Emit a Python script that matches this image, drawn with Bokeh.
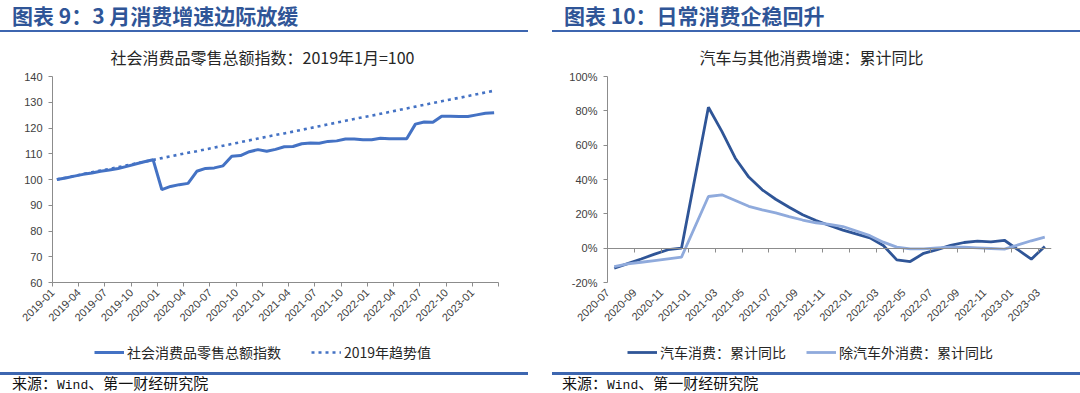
import math
from bokeh.plotting import figure
from bokeh.models import (Range1d, FixedTicker, LinearAxis, Legend, LegendItem,
                          Div, Spacer, PrintfTickFormatter)
from bokeh.layouts import column, row
from bokeh.embed import file_html
from bokeh.resources import INLINE

# ---------------- data ----------------
months_L = [f"{y}-{m:02d}" for y in range(2019, 2024) for m in range(1, 13)][:51]
retail_index = [100.0, 100.6, 101.3, 102.0, 102.5, 103.2, 103.7, 104.3, 105.1, 106.0, 106.9, 107.7,
                96.1, 97.3, 98.0, 98.5, 103.2, 104.3, 104.5, 105.3, 109.0, 109.3, 110.8, 111.6,
                111.0, 111.7, 112.7, 112.8, 113.9, 114.2, 114.1, 114.8, 115.0, 115.7, 115.7, 115.4,
                115.4, 116.0, 115.8, 115.8, 115.8, 121.5, 122.3, 122.2, 124.6, 124.6, 124.5, 124.5,
                125.1, 125.7, 125.9]
trend_2019 = [100.0, 100.7, 101.4, 102.1, 102.8, 103.5, 104.1, 104.8, 105.5, 106.2, 106.9, 107.6,
              108.3, 109.0, 109.7, 110.4, 111.0, 111.7, 112.4, 113.1, 113.8, 114.5, 115.2, 115.9,
              116.6, 117.3, 117.9, 118.6, 119.3, 120.0, 120.7, 121.4, 122.1, 122.8, 123.5, 124.2,
              124.8, 125.5, 126.2, 126.9, 127.6, 128.3, 129.0, 129.7, 130.4, 131.1, 131.7, 132.4,
              133.1, 133.8, 134.5]
yticks_L = [60, 70, 80, 90, 100, 110, 120, 130, 140]

months_R = [f"{y}-{m:02d}" for y in range(2020, 2024) for m in range(1, 13)][6:39]
auto_yoy = [-11.7, -9.0, -6.3, -3.5, -0.9, 0.0, None, 82.1, 68.0, 52.4, 41.4, 34.0,
            28.5, 23.8, 19.5, 16.1, 13.2, 10.5, None, 6.0, 1.6, -6.8, -7.8, -3.0,
            -0.8, 1.6, 3.3, 4.1, 3.7, 4.6, None, -6.4, 1.0]
ex_auto_yoy = [-10.7, -9.2, -8.2, -7.2, -6.2, -5.2, None, 30.1, 31.1, 27.8, 24.4, 22.3,
               20.5, 18.4, 16.4, 14.8, 13.8, 12.6, None, 7.3, 3.5, 0.6, -0.4, -0.4,
               0.2, 0.6, 0.6, 0.2, -0.2, -0.6, None, 4.3, 6.4]
yticks_R = [-20, 0, 20, 40, 60, 80, 100]

title_L = "图表 9：3 月消费增速边际放缓"
title_R = "图表 10：日常消费企稳回升"
sub_L = "社会消费品零售总额指数：2019年1月=100"
sub_R = "汽车与其他消费增速：累计同比"
leg_L = ["社会消费品零售总额指数", "2019年趋势值"]
leg_R = ["汽车消费：累计同比", "除汽车外消费：累计同比"]

# ---------------- style ----------------
CJK = "Noto Sans CJK SC"
NUM = "Liberation Sans"
AX = "#8c8c8c"
LBL = "#404040"
BLUE = "#4472C4"
DARK = "#2F5597"
LIGHT = "#8FAADC"
RULE = "#3d66b0"
PW, GAP = 528, 24
HH, FIGH, LH, FH = 33, 299, 40, 21

SOLID = dict(line_color=BLUE, line_width=3)
DOTTED = dict(line_color=BLUE, line_width=2.6, line_dash="3 4")
AUTO = dict(line_color=DARK, line_width=2.8)
EXAUTO = dict(line_color=LIGHT, line_width=2.8)


def style_axes(p):
    for ax in p.xaxis + p.yaxis:
        ax.axis_line_color = AX
        ax.major_tick_line_color = AX
        ax.minor_tick_line_color = None
        ax.major_tick_out = 4
        ax.major_tick_in = 0
        ax.major_label_text_font = NUM
        ax.major_label_text_font_size = "11px"
        ax.major_label_text_color = LBL
    p.xaxis.major_label_orientation = math.pi / 4
    p.xaxis.major_label_standoff = 4
    p.yaxis.major_label_standoff = 6


def make_fig(sub, x_end, yr, ml, mr, off):
    p = figure(width=PW, height=FIGH, x_range=Range1d(0, x_end), y_range=Range1d(*yr),
               output_backend="svg", toolbar_location=None,
               min_border_left=ml, min_border_right=mr, min_border_top=43, min_border_bottom=50)
    p.outline_line_color = None
    p.grid.grid_line_color = None
    p.title.text = sub
    p.title.align = "left"
    p.title.offset = off
    p.title.standoff = 16
    p.title.text_font = CJK
    p.title.text_font_size = "16px"
    p.title.text_font_style = "normal"
    p.title.text_color = "#262626"
    return p


def legend_fig(labels, series, styles, x, spacing):
    # the legend lives in its own strip; its renderers carry the real series,
    # which fall outside this strip's ranges, so only the legend samples show
    lf = figure(width=PW, height=LH, x_range=Range1d(-3, -2), y_range=Range1d(-3, -2),
                output_backend="svg", toolbar_location=None,
                x_axis_location=None, y_axis_location=None, min_border=0)
    lf.outline_line_color = None
    lf.grid.grid_line_color = None
    items = []
    for lab, (xs, ys), st in zip(labels, series, styles):
        r = lf.line(x=xs, y=ys, **st)
        items.append(LegendItem(label=lab, renderers=[r]))
    lf.add_layout(Legend(items=items, orientation="horizontal", location=(x, 10),
                         border_line_color=None, background_fill_alpha=0,
                         label_text_font=CJK, label_text_font_size="14px",
                         label_text_color="#262626", glyph_width=30, glyph_height=20,
                         label_height=20, label_standoff=3, spacing=spacing,
                         padding=4, margin=0))
    return lf

# ---------------- left chart ----------------
xL = [i + 0.5 for i in range(len(months_L))]
pL = make_fig(sub_L, len(months_L), (yticks_L[0], yticks_L[-1]), 52, 30, 58)
pL.line(xL, trend_2019, **DOTTED)
pL.line(xL, retail_index, **SOLID)
ticks_L = [i for i, m in enumerate(months_L) if m[5:] in ("01", "04", "07", "10")] + [len(months_L)]
pL.xaxis.ticker = FixedTicker(ticks=ticks_L)
pL.xaxis.major_label_overrides = {i: (months_L[i] if i < len(months_L) else "") for i in ticks_L}
pL.yaxis.ticker = FixedTicker(ticks=yticks_L)
style_axes(pL)

# ---------------- right chart ----------------
pR = make_fig(sub_R, len(months_R), (yticks_R[0], yticks_R[-1]), 55, 29, 92)
xa = [i + 0.5 for i, v in enumerate(auto_yoy) if v is not None]
ya = [v for v in auto_yoy if v is not None]
xb = [i + 0.5 for i, v in enumerate(ex_auto_yoy) if v is not None]
yb = [v for v in ex_auto_yoy if v is not None]
pR.line(xa, ya, **AUTO)
pR.line(xb, yb, **EXAUTO)
ticks_R = list(range(0, len(months_R), 2))
pR.xaxis.ticker = FixedTicker(ticks=ticks_R)
pR.xaxis.major_label_overrides = {i: months_R[i] for i in ticks_R}
pR.yaxis.ticker = FixedTicker(ticks=yticks_R)
pR.yaxis.formatter = PrintfTickFormatter(format="%d%%")
style_axes(pR)
pR.xaxis.axis_line_color = None
pR.xaxis.major_tick_line_color = None
zero_axis = LinearAxis(fixed_location=0, ticker=FixedTicker(ticks=ticks_R),
                       axis_line_color=AX, major_tick_line_color=AX, major_tick_in=4,
                       major_tick_out=0, minor_tick_line_color=None,
                       major_label_overrides={i: " " for i in ticks_R},
                       major_label_text_font_size="1px")
pR.add_layout(zero_axis, "above")

lgL = legend_fig(leg_L, [(xL, retail_index), (xL, trend_2019)], [SOLID, DOTTED], 94, 30)
lgR = legend_fig(leg_R, [(xa, ya), (xb, yb)], [AUTO, EXAUTO], 75, 20)

# ---------------- header / footer ----------------
def header(text, left):
    html = (f'<div style="position:relative;width:{PW}px;height:{HH}px;">'
            f'<div style="position:absolute;left:{left}px;top:2px;white-space:nowrap;'
            f'font-family:\'{CJK}\';font-weight:bold;font-size:21px;line-height:27px;color:#2f5597;">{text}</div>'
            f'<div style="position:absolute;left:0;top:30px;width:{PW}px;height:2px;background:{RULE};"></div></div>')
    return Div(text=html, width=PW, height=HH, margin=(0, 0, 0, 0))


def footer(left):
    html = (f'<div style="position:relative;width:{PW}px;height:{FH}px;">'
            f'<div style="position:absolute;left:0;top:0px;width:{PW}px;height:3px;background:{RULE};"></div>'
            f'<div style="position:absolute;left:{left}px;top:2px;white-space:nowrap;'
            f'font-family:\'{CJK}\';font-size:15px;line-height:18px;color:#111;">来源：'
            f'<span style="font-family:\'Liberation Mono\';font-size:13px;">Wind</span>、第一财经研究院</div></div>')
    return Div(text=html, width=PW, height=FH, margin=(0, 0, 0, 0))


layout = column(
    row(header(title_L, 12), Spacer(width=GAP, height=HH), header(title_R, 12)),
    row(pL, Spacer(width=GAP, height=FIGH), pR),
    row(lgL, Spacer(width=GAP, height=LH), lgR),
    row(footer(12), Spacer(width=GAP, height=FH), footer(10)),
)

open("out.html", "w").write(file_html(layout, INLINE))
